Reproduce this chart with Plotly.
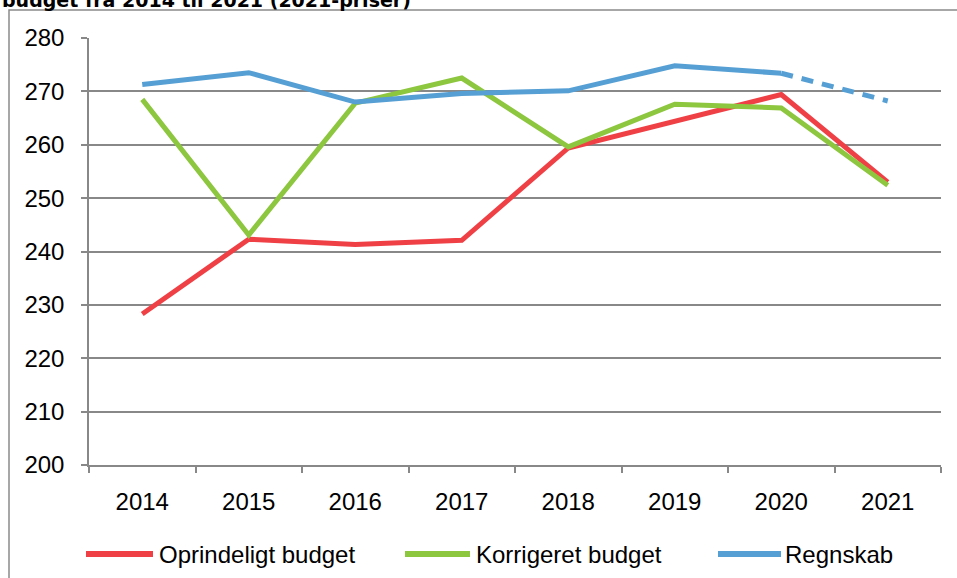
import plotly.graph_objects as go

years = ["2014", "2015", "2016", "2017", "2018", "2019", "2020", "2021"]
oprindeligt = [228.3, 242.3, 241.3, 242.1, 259.4, 264.4, 269.4, 253.0]
korrigeret = [268.5, 243.1, 267.8, 272.5, 259.6, 267.6, 266.9, 252.4]
regnskab = [271.3, 273.5, 268.0, 269.6, 270.1, 274.8, 273.4, 268.2]
series_names = ["Oprindeligt budget", "Korrigeret budget", "Regnskab"]
y_ticks = [200, 210, 220, 230, 240, 250, 260, 270, 280]
title_text = "budget fra 2014 til 2021 (2021-priser)"

RED = "#EF4046"
GREEN = "#8DC63F"
BLUE = "#559FD4"
GRID = "#888888"
FONT = "Liberation Sans, Arial"

fig = go.Figure()
fig.add_trace(go.Scatter(x=years, y=oprindeligt, mode="lines", name=series_names[0],
                         line=dict(color=RED, width=5), showlegend=False))
fig.add_trace(go.Scatter(x=years, y=korrigeret, mode="lines", name=series_names[1],
                         line=dict(color=GREEN, width=5), showlegend=False))
fig.add_trace(go.Scatter(x=years[:7], y=regnskab[:7], mode="lines", name=series_names[2],
                         line=dict(color=BLUE, width=5), showlegend=False))
fig.add_trace(go.Scatter(x=years[6:], y=regnskab[6:], mode="lines", name=series_names[2],
                         line=dict(color=BLUE, width=5, dash="12px,9px"), showlegend=False))

W, H = 957, 578
L, R, T, B = 89, 16, 38, 113
pw, ph = W - L - R, H - T - B

def px(x):
    return (x - L) / pw

def py(y):
    return (H - B - y) / ph

shapes = [
    dict(type="rect", xref="paper", yref="paper", x0=px(9), x1=px(1000), y0=py(620), y1=py(10),
         line=dict(color="#8a8a8a", width=1.5), fillcolor="rgba(0,0,0,0)", layer="below"),
]
annotations = [
    dict(text="<b>" + title_text + "</b>", xref="paper", yref="paper", x=px(0), y=py(13),
         xanchor="left", yanchor="bottom", showarrow=False,
         font=dict(family="DejaVu Sans", size=19, color="black")),
]
legend_items = [(series_names[0], RED, 86, 153, 157),
                (series_names[1], GREEN, 405, 470, 474),
                (series_names[2], BLUE, 718, 781, 783)]
ly = 554
for name, col, x0, x1, tx in legend_items:
    shapes.append(dict(type="line", xref="paper", yref="paper", x0=px(x0), x1=px(x1),
                       y0=py(ly), y1=py(ly), line=dict(color=col, width=6)))
    annotations.append(dict(text=name, xref="paper", yref="paper", x=px(tx), y=py(ly),
                            xanchor="left", yanchor="middle", showarrow=False,
                            font=dict(family=FONT, size=24, color="black")))

fig.update_layout(
    width=W, height=H,
    margin=dict(l=L, r=R, t=T, b=B, autoexpand=False),
    paper_bgcolor="white", plot_bgcolor="white",
    showlegend=False,
    font=dict(family=FONT, size=24, color="black"),
    shapes=shapes, annotations=annotations,
)
fig.update_xaxes(type="category", range=[-0.5, 7.5], automargin=False, showgrid=False,
                 showline=True, linecolor=GRID, linewidth=1.5,
                 ticks="outside", tickson="boundaries", ticklen=6, tickcolor=GRID, tickwidth=1.5,
                 ticklabelstandoff=14, tickfont=dict(size=24, color="black"))
fig.update_yaxes(range=[200, 280], tickvals=y_ticks, automargin=False, showgrid=True,
                 gridcolor=GRID, gridwidth=1.5,
                 showline=True, linecolor=GRID, linewidth=1.5, ticks="outside", ticklen=6,
                 tickcolor=GRID, tickwidth=1.5, ticklabelstandoff=12, zeroline=False,
                 tickfont=dict(size=24, color="black"))

fig.write_html("out.html", config={"displayModeBar": False},
               post_script="document.body.style.margin='0';document.body.style.overflow='hidden';")
